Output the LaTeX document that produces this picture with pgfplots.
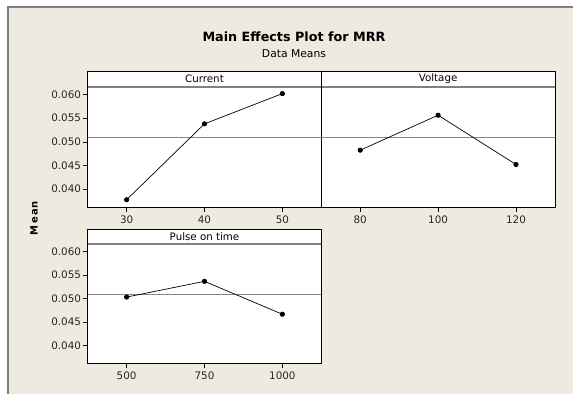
\documentclass[border=0pt]{standalone}
\usepackage{pgfplots}
\pgfplotsset{compat=1.18}
\usepackage{fontspec}
\setmainfont{DejaVu Sans}
\definecolor{bg}{RGB}{238,234,224}
\definecolor{framec}{RGB}{128,128,128}
\definecolor{refl}{RGB}{135,135,135}
\pgfplotsset{
  panel/.style={
    scale only axis, width=233.6bp, height=120bp, anchor=south west,
    axis background/.style={fill=white},
    ymin=0.0362, ymax=0.0616,
    axis line style={black, line width=0.8bp},
    tick style={black, line width=0.6bp},
    tick align=outside, major tick length=5bp,
    tick pos=left,
    ticklabel style={font=\fontsize{10.4}{12}\selectfont, text=black!85},
    yticklabel style={inner xsep=1.5bp},
    /pgf/number format/assume math mode=true,
    /pgf/number format/set thousands separator={},
    scaled y ticks=false,
    ytick={0.040,0.045,0.050,0.055,0.060},
    yticklabel style={/pgf/number format/.cd, fixed, fixed zerofill, precision=3},
    clip=false,
  },
  dline/.style={black, line width=0.7bp, mark=*, mark size=2.2bp, mark options={fill=black}},
  mline/.style={refl, line width=0.9bp, forget plot},
}
\begin{document}
\begin{tikzpicture}
\useasboundingbox (0,0) rectangle (573bp,394bp);
\fill[bg] (8bp,0) rectangle (573bp,387bp);
\draw[framec, line width=1.5bp] (8bp,0) -- (8bp,387bp) -- (573bp,387bp);

\node[font=\bfseries\fontsize{12.8}{14}\selectfont] at (294bp,357bp) {Main Effects Plot for MRR};
\node[font=\fontsize{10.8}{12}\selectfont] at (294bp,340.5bp) {Data Means};
\node[rotate=90, font=\bfseries\fontsize{10}{12}\selectfont\addfontfeatures{LetterSpace=12}] at (34bp,176bp) {Mean};

% Current
\begin{axis}[panel, name=a1, at={(87.7bp,187bp)}, xmin=25, xmax=55, xtick={30,40,50}]
\addplot[mline] coordinates {(25,0.0510) (55,0.0510)};
\addplot[dline] coordinates {(30,0.03774) (40,0.0538) (50,0.0602)};
\end{axis}

% Voltage
\begin{axis}[panel, name=a2, at={(321.3bp,187bp)}, xmin=70, xmax=130, xtick={80,100,120}, ytick=\empty]
\addplot[mline] coordinates {(70,0.0510) (130,0.0510)};
\addplot[dline] coordinates {(80,0.04823) (100,0.05563) (120,0.0452)};
\end{axis}

% Pulse on time
\begin{axis}[panel, name=a3, at={(87.7bp,30.7bp)}, height=119.3bp, xmin=375, xmax=1125, xtick={500,750,1000}]
\addplot[mline] coordinates {(375,0.0509) (1125,0.0509)};
\addplot[dline] coordinates {(500,0.0503) (750,0.05365) (1000,0.04665)};
\end{axis}

% strips
\foreach \a/\t in {a1/Current, a2/Voltage} {
  \draw[black, line width=0.8bp, fill=white] (\a.north west) rectangle ([yshift=16bp]\a.north east);
  \draw[framec, line width=1.2bp] ([xshift=0.4bp]\a.north west) -- ([xshift=-0.4bp]\a.north east);
  \node[font=\fontsize{10.3}{12}\selectfont] at ([yshift=8bp]\a.north) {\t};
}
\draw[black, line width=0.8bp, fill=white] (a3.north west) rectangle ([yshift=15bp]a3.north east);
\draw[framec, line width=1.2bp] ([xshift=0.4bp]a3.north west) -- ([xshift=-0.4bp]a3.north east);
\node[font=\fontsize{10.3}{12}\selectfont] at ([yshift=7.5bp]a3.north) {Pulse on time};
\end{tikzpicture}
\end{document}
